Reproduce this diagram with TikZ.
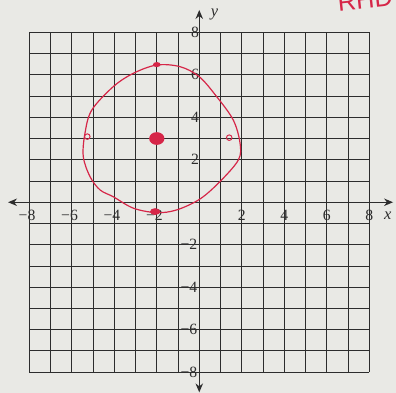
\documentclass[tikz,border=0pt]{standalone}
\usepackage{fontspec}
\setmainfont{Liberation Serif}
\newfontfamily\handfont{Liberation Sans}
\usepackage{xcolor}
\usetikzlibrary{arrows.meta}
\definecolor{paper}{RGB}{233,233,229}
\definecolor{gridgray}{RGB}{45,45,45}
\definecolor{penred}{RGB}{214,38,72}

\begin{document}
\begin{tikzpicture}[
  gridline/.style={gridgray, line width=1.3pt},
  axis/.style={gridgray, line width=1.4pt, {Stealth[length=12pt,width=10pt]}-{Stealth[length=12pt,width=10pt]}},
  ticklabel/.style={font=\fontsize{21}{21}\selectfont, text=gridgray, inner sep=0pt},
  axislabel/.style={font=\fontsize{22}{22}\selectfont\itshape, text=gridgray, inner sep=0pt},
  pen/.style={penred, line width=1.6pt},
  penmark/.style={penred, line width=1.3pt}
]

% Paper
\useasboundingbox[fill=paper] (-9.38,-8.97) rectangle (9.26,9.52);

% Grid
\foreach \k in {-8,...,8} {
  \draw[gridline] (\k,-8) -- (\k,8);
  \draw[gridline] (-8,\k) -- (8,\k);
}

% Axes
\coordinate (xl) at (-9.0,0);
\coordinate (xr) at (9.12,0);
\coordinate (yb) at (0,-8.95);
\coordinate (yt) at (0,9.05);
\draw[axis] (xl) -- (xr);
\draw[axis] (yb) -- (yt);
\node[axislabel] (xlab) at (8.87,-0.62) {x};
\node[axislabel] (ylab) at (0.72,8.82) {y};

% Tick labels
\foreach \v in {2,4,6,8} {
  \node[ticklabel] (xp\v) at (\v,-0.62) {\v};
  \node[ticklabel] (xn\v) at (-\v+0.1,-0.62) {\llap{\textminus}\v};
  \node[ticklabel] (yp\v) at (-0.2,\v) {\v};
  \node[ticklabel] (yn\v) at (-0.28,-\v) {\llap{\textminus}\v};
}

% Hand-drawn circle
\draw[pen] plot[smooth cycle, tension=0.55] coordinates {
  (-2.0,6.46) (-0.9,6.38) (0,5.91) (0.82,4.97) (1.6,3.87) (1.92,2.78)
  (1.84,1.99) (0.97,0.97) (0.03,0.15) (-1.06,-0.36) (-2.0,-0.49)
  (-3.1,-0.28) (-4.05,0.26) (-4.67,0.58) (-5.14,1.2) (-5.46,2.15)
  (-5.38,3.25) (-5.06,4.34) (-4.05,5.44) (-3.1,6.07)};

% Marked points
\fill[penred] (-2.0,3.0) ellipse [x radius=0.36, y radius=0.3];
\fill[penred] (-2.0,6.48) ellipse [x radius=0.18, y radius=0.12];
\fill[penred] (-2.08,-0.44) ellipse [x radius=0.24, y radius=0.16];
\draw[penmark] (1.41,3.04) circle [radius=0.13];
\draw[penmark] (-5.27,3.09) circle [radius=0.13];

% Initials
\node[anchor=base west, inner sep=0pt, text=penred, rotate=6,
  font=\handfont\fontsize{34}{34}\selectfont] (initials) at (6.55,8.98) {RHD};

\end{tikzpicture}
\end{document}
